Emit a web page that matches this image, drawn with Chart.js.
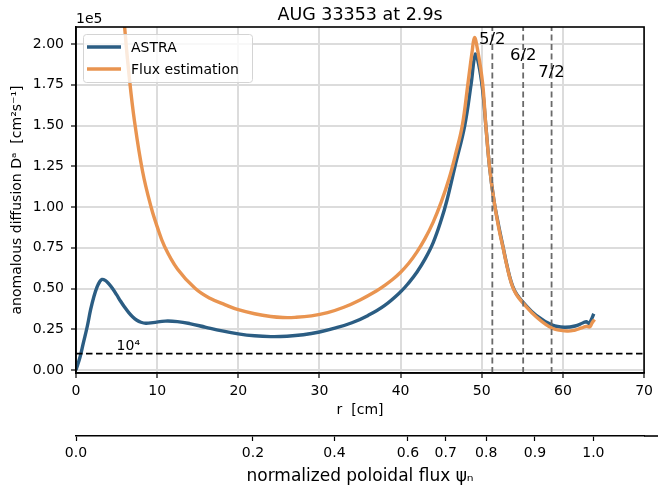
<!DOCTYPE html>
<html>
<head>
<meta charset="utf-8">
<script src="https://cdn.jsdelivr.net/npm/chart.js@4.4.0/dist/chart.umd.min.js"></script>
<style>
  html, body { margin: 0; padding: 0; background: #fff; }
</style>
</head>
<body>
<canvas id="chart" width="658" height="492"></canvas>
<script>
// values in units of 1e5 cm^2/s
const astraR = [0, 0.5, 0.9, 1.4, 1.8, 2.2, 2.6, 2.9, 3.2, 3.6, 4.0, 4.5, 5.0, 5.5, 6.0, 6.5, 7.0, 7.5, 8.0, 8.6, 9.5, 11, 12.5, 14, 16, 18, 20, 22, 24, 26, 28, 30, 32, 34, 36, 38, 40, 41, 42, 43, 44, 45, 45.7, 46.7, 47.9, 48.7, 49.2, 49.6, 50.1, 50.5, 50.95, 51.5, 52.1, 52.6, 53.0, 53.4, 53.8, 54.3, 55.1, 56.7, 58.7, 60.2, 61.5, 62.5, 62.9, 63.2, 63.5, 63.8];
const astraD = [0, 0.08, 0.165, 0.27, 0.37, 0.45, 0.51, 0.54, 0.556, 0.55, 0.532, 0.50, 0.462, 0.422, 0.385, 0.352, 0.325, 0.305, 0.293, 0.287, 0.291, 0.30, 0.297, 0.285, 0.262, 0.24, 0.222, 0.21, 0.205, 0.207, 0.216, 0.233, 0.258, 0.29, 0.335, 0.395, 0.48, 0.535, 0.60, 0.68, 0.78, 0.92, 1.04, 1.25, 1.50, 1.76, 1.937, 1.88, 1.72, 1.50, 1.25, 1.04, 0.88, 0.76, 0.665, 0.58, 0.515, 0.465, 0.415, 0.335, 0.275, 0.262, 0.27, 0.29, 0.296, 0.285, 0.31, 0.345];

const fluxR = [5.5, 6.0, 6.6, 7.2, 8.2, 9.25, 10.0, 10.9, 12.5, 14.7, 16.5, 18.4, 20, 22, 24, 25.5, 27, 29, 31, 33, 35, 37, 38, 39, 40, 41, 42, 43, 44, 45, 46, 46.8, 47.6, 48.3, 48.8, 49.1, 49.5, 50.1, 50.5, 50.95, 51.5, 52.1, 52.6, 53.0, 53.4, 53.8, 54.3, 55.1, 56.7, 58.7, 60.5, 61.5, 62.3, 62.9, 63.3, 63.6, 63.9];
const fluxD = [2.45, 2.10, 1.78, 1.53, 1.22, 1.00, 0.88, 0.76, 0.62, 0.50, 0.44, 0.40, 0.37, 0.345, 0.328, 0.322, 0.323, 0.332, 0.352, 0.385, 0.43, 0.485, 0.518, 0.555, 0.60, 0.655, 0.723, 0.806, 0.906, 1.03, 1.18, 1.33, 1.50, 1.76, 1.95, 2.04, 1.96, 1.76, 1.50, 1.25, 1.04, 0.87, 0.755, 0.66, 0.575, 0.51, 0.46, 0.41, 0.327, 0.256, 0.239, 0.245, 0.258, 0.268, 0.265, 0.29, 0.31];

// rational surfaces
const surfaceR = [51.3, 55.1, 58.6];
const surfaceLabels = ['5/2', '6/2', '7/2'];
const surfaceLabelY = [2.0, 1.9, 1.8];

const threshold = 0.1; // 1e4
const thresholdLabel = '10\u2074';

const xTicks = [0, 10, 20, 30, 40, 50, 60, 70];
const yTicks = [0, 0.25, 0.5, 0.75, 1.0, 1.25, 1.5, 1.75, 2.0];
const psiTickR = [0, 21.8, 31.85, 40.9, 45.55, 50.55, 56.55, 63.75];
const psiTickLabels = ['0.0', '0.2', '0.4', '0.6', '0.7', '0.8', '0.9', '1.0'];

const xMin = 0, xMax = 70, yMin = -0.0185, yMax = 2.105;

const BLUE = '#2b5d83';
const ORANGE = '#e99450';
const FONT = 'DejaVu Sans';

const pts = (xs, ys) => xs.map((x, i) => ({ x, y: ys[i] }));

const surfaceSets = surfaceR.map((r) => ({
  label: '',
  data: [{ x: r, y: yMin }, { x: r, y: yMax }],
  borderColor: '#6a6a6a',
  borderWidth: 1.8,
  borderDash: [6, 3.5],
  pointRadius: 0,
  order: -1,
  clip: 0,
}));

const extras = {
  id: 'extras',
  afterDraw(chart) {
    const { ctx, chartArea: a, scales } = chart;
    const x = scales.x, y = scales.y, x2 = scales.x2;
    ctx.save();
    // frame
    ctx.strokeStyle = '#000';
    ctx.lineWidth = 1.6;
    ctx.strokeRect(a.left, a.top, a.right - a.left, a.bottom - a.top);
    // secondary axis line runs to the edge
    ctx.beginPath();
    ctx.moveTo(x2.right, x2.top);
    ctx.lineTo(chart.width, x2.top);
    ctx.stroke();

    ctx.fillStyle = '#000';
    ctx.font = `17.5px "${FONT}"`;
    ctx.textAlign = 'center';
    ctx.textBaseline = 'alphabetic';
    ctx.fillText('AUG 33353 at 2.9s', (a.left + a.right) / 2, 19.5);

    ctx.font = `14px "${FONT}"`;
    ctx.textAlign = 'left';
    ctx.fillText('1e5', a.left, 23.3);

    // threshold label
    ctx.fillText(thresholdLabel, x.getPixelForValue(5), y.getPixelForValue(0.12));

    // surface labels
    ctx.font = `16.5px "${FONT}"`;
    ctx.textAlign = 'center';
    surfaceR.forEach((r, i) => {
      ctx.fillText(surfaceLabels[i], x.getPixelForValue(r), y.getPixelForValue(surfaceLabelY[i]));
    });

    // legend
    const lx = a.left + 7, ly = a.top + 7;
    ctx.fillStyle = 'rgba(255,255,255,0.8)';
    ctx.strokeStyle = '#d4d4d4';
    ctx.lineWidth = 1;
    ctx.beginPath();
    ctx.roundRect(lx + 0.5, ly + 0.5, 169, 48, 3);
    ctx.fill();
    ctx.stroke();
    const items = chart.data.datasets.filter((d) => d.label);
    ctx.font = `14px "${FONT}"`;
    ctx.textAlign = 'left';
    items.forEach((d, i) => {
      const cy = ly + 13 + i * 22;
      ctx.strokeStyle = d.borderColor;
      ctx.lineWidth = d.borderWidth;
      ctx.beginPath();
      ctx.moveTo(lx + 4, cy);
      ctx.lineTo(lx + 38, cy);
      ctx.stroke();
      ctx.fillStyle = '#000';
      ctx.fillText(d.label, lx + 48, cy + 5.3);
    });
    ctx.restore();
  }
};

new Chart(document.getElementById('chart'), {
  type: 'line',
  data: {
    datasets: [
      {
        label: 'ASTRA',
        data: pts(astraR, astraD),
        borderColor: BLUE,
        borderWidth: 3.4,
        pointRadius: 0,
        tension: 0.4,
        order: 2,
        clip: 0,
      },
      {
        label: 'Flux estimation',
        data: pts(fluxR, fluxD),
        borderColor: ORANGE,
        borderWidth: 3.4,
        pointRadius: 0,
        tension: 0.4,
        order: 1,
        clip: 0,
      },
      {
        label: '',
        data: [{ x: xMin, y: threshold }, { x: xMax, y: threshold }],
        borderColor: '#000',
        borderWidth: 1.8,
        borderDash: [6.5, 3.5],
        pointRadius: 0,
        order: 0,
        clip: 0,
      },
      ...surfaceSets,
    ]
  },
  options: {
    responsive: false,
    animation: false,
    devicePixelRatio: 1,
    layout: { padding: { top: 27, right: 9, left: 0, bottom: 0 } },
    plugins: {
      legend: { display: false },
      title: { display: false },
      tooltip: { enabled: false },
    },
    scales: {
      x: {
        type: 'linear',
        position: 'bottom',
        min: xMin,
        max: xMax,
        afterBuildTicks: (axis) => { axis.ticks = xTicks.map((v) => ({ value: v })); },
        afterFit: (axis) => { axis.height = 63; },
        grid: { color: '#dcdcdc', lineWidth: 2, tickColor: '#000', tickLength: 5, tickWidth: 1.2 },
        border: { color: '#000', width: 1.6 },
        ticks: { color: '#000', font: { family: FONT, size: 14 }, padding: 5, maxRotation: 0, autoSkip: false },
        title: { display: true, text: 'r  [cm]', color: '#000', font: { family: FONT, size: 14 }, padding: { top: 0, bottom: 17 } },
      },
      x2: {
        type: 'linear',
        position: 'bottom',
        min: xMin,
        max: xMax,
        afterBuildTicks: (axis) => { axis.ticks = psiTickR.map((v) => ({ value: v })); },
        afterFit: (axis) => { axis.height = 56; },
        grid: { drawOnChartArea: false, color: '#000', tickLength: 5, tickWidth: 1.2 },
        border: { color: '#000', width: 1.6 },
        ticks: {
          color: '#000',
          font: { family: FONT, size: 14 },
          padding: 4,
          maxRotation: 0,
          autoSkip: false,
          callback: (v, i) => psiTickLabels[i],
        },
        title: { display: true, text: 'normalized poloidal flux \u03c8\u2099', color: '#000', font: { family: FONT, size: 17 }, padding: { top: 0, bottom: 5 } },
      },
      y: {
        type: 'linear',
        min: yMin,
        max: yMax,
        afterBuildTicks: (axis) => { axis.ticks = yTicks.map((v) => ({ value: v })); },
        afterFit: (axis) => { axis.width = 76; },
        grid: { color: '#dcdcdc', lineWidth: 2, tickColor: '#000', tickLength: 5, tickWidth: 1.2 },
        border: { color: '#000', width: 1.6 },
        ticks: { color: '#000', font: { family: FONT, size: 14 }, padding: 7, callback: (v) => v.toFixed(2) },
        title: { display: true, text: 'anomalous diffusion D\u1d43  [cm\u00b2s\u207b\u00b9]', color: '#000', font: { family: FONT, size: 14 }, padding: { top: 9, bottom: 0 } },
      }
    }
  },
  plugins: [extras]
});
</script>
</body>
</html>
